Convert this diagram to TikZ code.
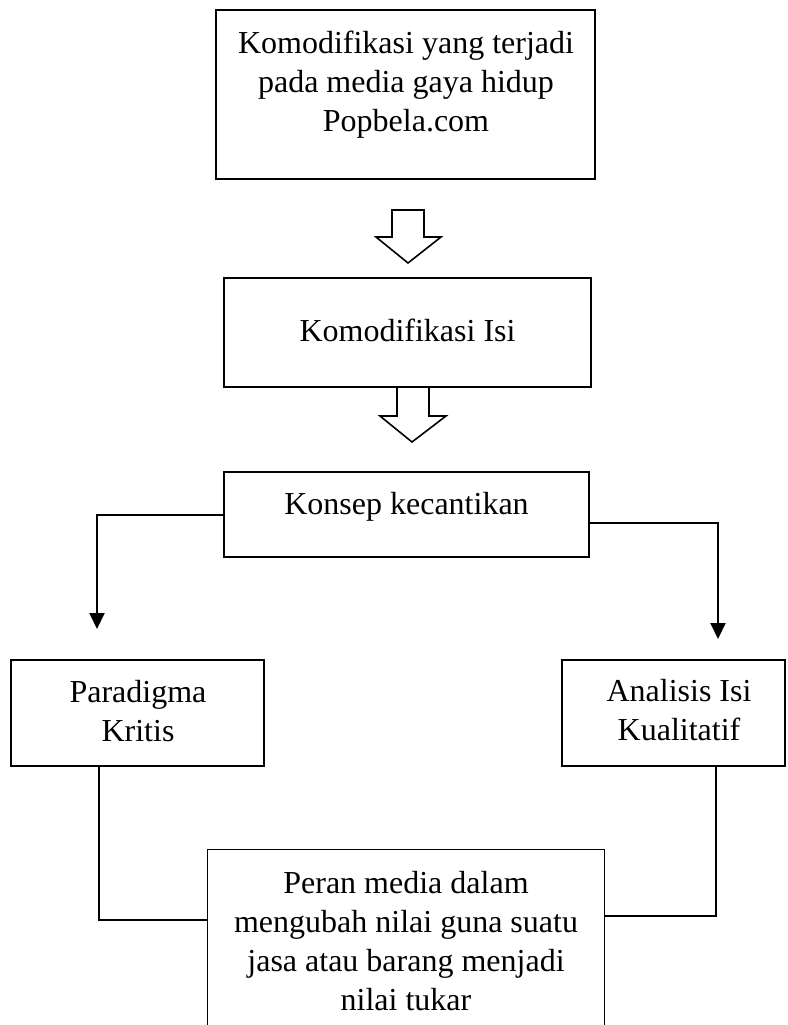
\documentclass[tikz,border=0pt]{standalone}
\usepackage{fontspec}
\setmainfont{Liberation Serif}
\usetikzlibrary{arrows.meta}
\begin{document}
\begin{tikzpicture}[x=1pt,y=-1pt,
  box/.style={draw, line width=1.1pt, inner sep=0pt},
  txt/.style={font=\fontsize{32}{39}\selectfont, align=center, inner sep=0pt, anchor=base},
  conn/.style={line width=2pt},
  arr/.style={conn, -{Triangle[width=15pt,length=16pt]}},
  blockarrow/.style={line width=1.6pt, line join=miter, fill=white}]
\useasboundingbox (0,0) rectangle (787,1025);
% boxes
\node[box, minimum width=379pt, minimum height=169pt] (b1) at (405.5,94.5) {};
\node[txt] (t1) at (406,131) {Komodifikasi yang terjadi\\pada media gaya hidup\\Popbela.com};
\node[box, minimum width=367pt, minimum height=109pt] (b2) at (407.5,332.5) {};
\node[txt] (t2) at (407.5,341) {Komodifikasi Isi};
\node[box, minimum width=365pt, minimum height=85pt] (b3) at (406.5,514.5) {};
\node[txt] (t3) at (406.5,514) {Konsep kecantikan};
\node[box, minimum width=253pt, minimum height=106pt] (b4) at (137.5,713) {};
\node[txt] (t4) at (138,741) {Paradigma\\Kritis};
\node[box, minimum width=223pt, minimum height=106pt] (b5) at (673.5,713) {};
\node[txt] (t5) at (679,740) {Analisis Isi\\Kualitatif};
\node[inner sep=0pt, minimum width=396pt, minimum height=180pt] (b6) at (406,940) {};
\draw[line width=1.1pt] (b6.south west) -- (b6.north west) -- (b6.north east) -- (b6.south east);
\node[txt] (t6) at (406,1010) {Peran media dalam\\mengubah nilai guna suatu\\jasa atau barang menjadi\\nilai tukar};
% block arrows
\draw[blockarrow] (392,210) -- (424,210) -- (424,237) -- (441,237) -- (408,263) -- (376,237) -- (392,237) -- cycle;
\draw[blockarrow] (397,387) -- (429,387) -- (429,416) -- (446,416) -- (412,442) -- (380,416) -- (397,416) -- cycle;
% connectors
\coordinate (l1) at (97,629);
\coordinate (r1) at (718,639);
\draw[arr] (b3.west) -| (l1);
\draw[arr] ([yshift=-8.5pt]b3.east) -| (r1);
\draw[conn] ([xshift=-38.5pt]b4.south) |- ([yshift=20pt]b6.west);
\draw[conn] ([xshift=42.5pt]b5.south) |- ([yshift=24pt]b6.east);
\end{tikzpicture}
\end{document}
